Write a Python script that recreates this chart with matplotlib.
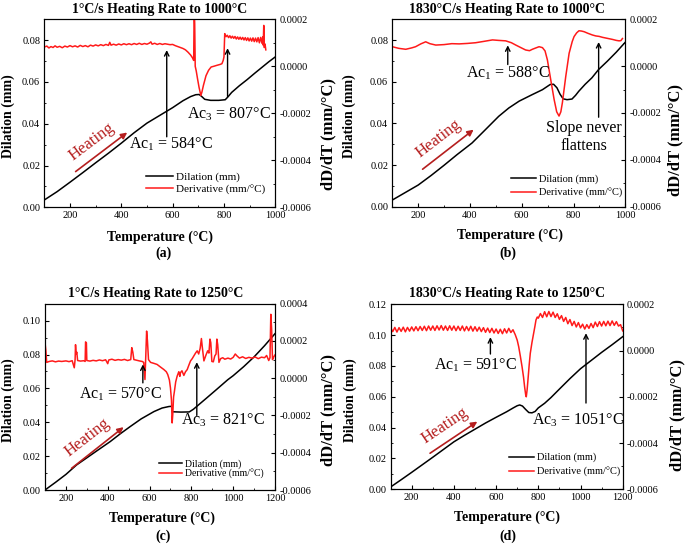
import matplotlib
matplotlib.use("Agg")
import matplotlib.pyplot as plt
import numpy as np
from matplotlib.lines import Line2D
from matplotlib.ticker import MultipleLocator, FormatStrFormatter

plt.rcParams['font.family'] = ['Liberation Serif', 'DejaVu Serif']
plt.rcParams['mathtext.fontset'] = 'custom'
plt.rcParams['mathtext.rm'] = 'Liberation Serif'
plt.rcParams['axes.unicode_minus'] = False

# ---------------- data (temperature in °C, dilation in mm, derivative in 1e-5 mm/°C) ----------------
# (a) 1 °C/s to 1000 °C
t_dil_a = [100, 150, 200, 250, 300, 350, 400, 450, 500, 550, 600, 640, 670, 690, 703, 712, 725, 748,
           780, 805, 815, 830, 860, 890, 920, 950, 975, 1000]
dil_a = [0.0035, 0.0075, 0.0120, 0.0166, 0.0213, 0.0259, 0.0307, 0.0357, 0.0403, 0.0440, 0.0477, 0.0510,
         0.0530, 0.0539, 0.0540, 0.0532, 0.0517, 0.0512, 0.0512, 0.0515, 0.0528, 0.0550, 0.0582, 0.0611,
         0.0642, 0.0672, 0.0697, 0.0720]
t_der_a = [100, 110, 118, 126, 134, 142, 150, 160, 170, 180, 190, 200, 210, 220, 230, 240, 250, 260, 270,
           280, 290, 300, 310, 320, 330, 340, 350, 355, 360, 370, 380, 390, 400, 410, 420, 430, 440, 450,
           460, 470, 480, 490, 500, 510, 515, 520, 530, 540, 550, 560, 570, 580, 590, 600, 610, 620, 630,
           640, 650, 660, 670, 678, 682, 684, 686, 688, 692, 697, 703, 710, 714, 720, 730, 740, 750, 760,
           772, 785, 792, 797, 800, 803, 808, 813, 818, 823, 828, 833, 838, 843, 848, 853, 858, 863, 868,
           873, 878, 883, 888, 893, 898, 903, 908, 913, 918, 923, 928, 933, 938, 943, 948, 951, 953, 955,
           957, 960, 963]
der_a = [8.2, 8.6, 7.8, 8.4, 8.0, 8.7, 8.1, 8.5, 7.9, 8.6, 8.2, 8.8, 8.3, 8.7, 8.2, 8.9, 8.4, 8.8, 8.3,
         9.0, 8.6, 9.1, 8.7, 9.2, 8.8, 9.3, 8.9, 10.2, 9.0, 9.4, 9.0, 9.5, 9.1, 9.6, 9.2, 9.6, 9.2, 9.7,
         9.3, 9.8, 9.3, 9.7, 9.4, 9.9, 10.4, 9.4, 9.8, 9.3, 9.7, 9.3, 9.6, 9.4, 9.2, 9.3, 8.8, 8.4, 8.0,
         7.6, 7.0, 6.0, 4.8, 3.5, 2.5, 25.0, 18.0, 0.0, -2.0, -5.3, -9.0, -12.4, -11.0, -8.1, -4.0, -1.7,
         -0.3, 0.0, 0.4, 0.8, 1.1, 2.5, 4.0, 13.9, 12.6, 13.2, 12.2, 13.0, 12.0, 12.8, 11.9, 12.7, 11.6,
         12.5, 11.5, 12.4, 11.4, 12.3, 11.2, 12.2, 11.0, 12.1, 10.8, 12.0, 10.7, 12.1, 10.5, 12.0, 10.4,
         12.2, 10.0, 12.3, 9.8, 12.5, 9.0, 17.4, 8.0, 9.5, 7.0]

# (b) 1830 °C/s to 1000 °C
t_dil_b = [100, 150, 200, 250, 300, 350, 408, 450, 511, 550, 590, 640, 680, 710, 723, 736, 748, 760, 775,
           794, 808, 820, 845, 871, 897, 930, 965, 1000]
dil_b = [0.0032, 0.0068, 0.0104, 0.0150, 0.0199, 0.0250, 0.0306, 0.0358, 0.0434, 0.0474, 0.0507, 0.0538,
         0.0562, 0.0587, 0.0588, 0.0571, 0.0540, 0.0518, 0.0514, 0.0517, 0.0535, 0.0554, 0.0588, 0.0619,
         0.0659, 0.0698, 0.0742, 0.0790]
t_der_b = [100, 125, 152, 175, 190, 210, 229, 245, 268, 300, 330, 358, 390, 422, 455, 487, 510, 538, 560,
           577, 595, 615, 630, 641, 655, 667, 680, 690, 699, 712, 725, 735, 744, 751, 757, 770, 783, 795,
           802, 812, 821, 830, 841, 856, 873, 886, 899, 912, 925, 938, 951, 965, 976, 983, 989]
der_b = [8.3, 7.6, 7.2, 7.8, 8.3, 9.5, 10.4, 9.6, 9.0, 9.2, 9.6, 9.5, 9.7, 10.0, 10.6, 11.2, 11.0, 10.8,
         10.0, 9.0, 8.0, 6.9, 6.6, 7.2, 7.8, 8.3, 7.9, 6.5, 2.7, -5.8, -14.2, -19.5, -21.3, -19.5, -15.6,
         -4.4, 5.5, 10.5, 12.6, 14.2, 15.1, 15.0, 14.7, 14.0, 13.3, 12.9, 12.7, 12.3, 12.0, 11.7, 11.4,
         11.0, 10.8, 10.9, 11.8]

# (c) 1 °C/s to 1250 °C
t_dil_c = [100, 150, 200, 251, 300, 350, 412, 460, 508, 560, 621, 660, 693, 706, 709, 750, 790, 810, 829,
           870, 920, 974, 1000, 1050, 1100, 1150, 1200]
dil_c = [0.0000, 0.0045, 0.0092, 0.0148, 0.0190, 0.0233, 0.0286, 0.0332, 0.0375, 0.0420, 0.0463, 0.0484,
         0.0493, 0.0494, 0.0462, 0.0460, 0.0461, 0.0477, 0.0497, 0.0540, 0.0593, 0.0651, 0.0675, 0.0728,
         0.0786, 0.0852, 0.0923]
t_der_c = [100, 104, 108, 120, 135, 150, 165, 180, 200, 215, 230, 240, 244, 246, 249, 252, 256, 270, 285,
           292, 294, 298, 300, 315, 330, 345, 360, 375, 390, 400, 405, 420, 435, 450, 465, 480, 495, 510,
           515, 520, 525, 540, 555, 565, 572, 578, 582, 586, 590, 595, 605, 620, 636, 650, 668, 680, 687,
           695, 700, 705, 708, 711, 715, 719, 725, 732, 740, 745, 748, 755, 764, 772, 780, 788, 796, 804,
           812, 820, 828, 835, 842, 848, 852, 860, 870, 878, 884, 889, 893, 898, 905, 912, 918, 922, 926,
           932, 940, 950, 960, 975, 988, 1000, 1010, 1018, 1030, 1045, 1060, 1075, 1090, 1105, 1120, 1135,
           1150, 1160, 1170, 1176, 1180, 1184, 1188, 1194, 1200]
der_c = [19.0, 15.0, 8.5, 9.0, 9.3, 8.8, 9.2, 9.0, 9.3, 8.9, 9.4, 5.6, 10.0, 18.0, 13.0, 14.0, 9.5, 9.2,
         9.4, 9.0, 19.5, 19.0, 9.5, 9.2, 9.6, 9.3, 9.8, 9.4, 9.9, 7.8, 9.8, 10.2, 9.6, 10.0, 9.7, 10.1,
         9.5, 10.0, 16.4, 14.0, 10.0, 9.6, 9.2, 9.0, 8.5, -0.7, 12.0, 25.3, 20.0, 10.0, 8.5, 8.0, 7.4,
         6.2, 4.7, 3.5, 2.0, -1.0, -5.2, -12.0, -24.0, -19.5, -10.0, -7.0, -2.0, 1.1, 3.5, 1.0, 3.0, 4.0,
         1.5, 3.5, 4.6, 7.0, 9.3, 10.5, 12.0, 13.5, 14.7, 13.0, 16.0, 21.3, 17.0, 9.3, 12.5, 14.7, 13.5,
         21.0, 19.0, 9.0, 8.8, 12.0, 13.0, 21.0, 18.0, 8.5, 10.5, 11.0, 10.2, 10.8, 10.3, 11.2, 13.0, 12.0,
         10.8, 11.5, 10.6, 11.2, 10.8, 11.4, 10.5, 11.3, 11.0, 12.2, 9.5, 11.0, 34.3, 26.0, 10.0, 11.5,
         12.5]

# (d) 1830 °C/s to 1250 °C
t_dil_d = [100, 150, 200, 250, 300, 350, 400, 450, 500, 550, 600, 650, 680, 700, 712, 725, 740, 755, 770,
           785, 800, 830, 860, 900, 950, 1000, 1050, 1100, 1150, 1200]
dil_d = [0.0015, 0.0062, 0.0110, 0.0159, 0.0208, 0.0258, 0.0308, 0.0350, 0.0390, 0.0430, 0.0467, 0.0503,
         0.0527, 0.0542, 0.0547, 0.0540, 0.0518, 0.0498, 0.0496, 0.0505, 0.0528, 0.0558, 0.0595, 0.0650,
         0.0718, 0.0782, 0.0835, 0.0888, 0.0938, 0.0990]
t_der_d = [100, 110, 120, 130, 140, 150, 160, 170, 180, 190, 200, 210, 220, 230, 240, 250, 260, 270, 280,
           290, 300, 310, 320, 330, 340, 350, 360, 370, 380, 390, 400, 410, 420, 430, 440, 450, 460, 470,
           480, 490, 500, 510, 520, 530, 540, 550, 560, 570, 580, 590, 600, 610, 620, 630, 640, 650, 660,
           670, 680, 691, 700, 707, 715, 723, 730, 735, 740, 743, 747, 751, 757, 762, 770, 778, 784, 789,
           795, 800, 810, 820, 830, 840, 850, 860, 870, 880, 890, 900, 910, 920, 930, 940, 950, 960, 970,
           980, 990, 1000, 1010, 1020, 1030, 1040, 1050, 1060, 1070, 1080, 1090, 1100, 1110, 1120, 1130,
           1140, 1150, 1160, 1170, 1180, 1190, 1200]
der_d = [9.8, 8.2, 10.0, 8.0, 9.9, 8.3, 10.1, 8.1, 10.0, 8.4, 10.2, 8.5, 10.3, 8.6, 10.4, 8.7, 10.5, 8.6,
         10.6, 8.8, 10.6, 8.7, 10.7, 8.9, 10.8, 8.8, 10.6, 8.7, 10.7, 8.8, 10.6, 8.6, 10.5, 8.7, 10.6, 8.5,
         10.4, 8.6, 10.5, 8.4, 10.3, 8.4, 10.1, 8.2, 9.9, 7.9, 9.7, 7.8, 9.6, 7.6, 9.3, 7.4, 9.2, 7.3, 9.4,
         7.6, 9.6, 7.8, 9.0, 6.8, 4.5, 1.7, -2.5, -7.0, -11.5, -15.6, -19.0, -20.0, -17.0, -12.7, -6.0,
         -1.2, 3.5, 7.5, 10.5, 13.2, 14.5, 14.0, 16.0, 14.3, 16.8, 14.6, 16.9, 14.7, 16.6, 14.3, 15.9, 13.5,
         15.1, 12.6, 14.3, 11.6, 13.4, 10.8, 12.6, 10.2, 12.1, 9.8, 11.4, 9.3, 11.2, 9.6, 11.7, 9.9, 12.3,
         10.4, 12.5, 10.6, 12.6, 10.7, 12.7, 10.8, 12.8, 10.9, 12.5, 10.6, 11.2, 8.5]

titles = ['1°C/s Heating Rate to 1000°C', '1830°C/s Heating Rate to 1000°C',
          '1°C/s Heating Rate to 1250°C', '1830°C/s Heating Rate to 1250°C']
letters = ['(a)', '(b)', '(c)', '(d)']

W, H = 685, 545
fig = plt.figure(figsize=(W / 100, H / 100), dpi=100)
dark_red = '#B51E1E'


def px(x, y):
    return x / W, 1 - y / H


def panel(box, t_dil, dil, t_der, der, xmax, ymax_l, ymax_r, leg):
    x0, y0, x1, y1 = box
    ax = fig.add_axes([x0 / W, 1 - y1 / H, (x1 - x0) / W, (y1 - y0) / H])
    ax2 = ax.twinx()
    ax.plot(t_dil, dil, color='black', lw=1.1)
    ax2.plot(t_der, np.array(der) * 1e-5, color='#FF1A1A', lw=1.1)
    ax.set_xlim(100, xmax)
    ax.set_ylim(0, ymax_l)
    ax2.set_ylim(-0.0006, ymax_r)
    ax.xaxis.set_major_locator(MultipleLocator(200))
    ax.xaxis.set_minor_locator(MultipleLocator(100))
    ax.yaxis.set_major_locator(MultipleLocator(0.02))
    ax.yaxis.set_minor_locator(MultipleLocator(0.01))
    ax.yaxis.set_major_formatter(FormatStrFormatter('%.2f'))
    ax2.yaxis.set_major_locator(MultipleLocator(0.0002))
    ax2.yaxis.set_minor_locator(MultipleLocator(0.0001))
    ax2.yaxis.set_major_formatter(FormatStrFormatter('%.4f'))
    for a in (ax, ax2):
        a.tick_params(which='both', direction='in', labelsize=7.5, pad=3)
        a.tick_params(which='major', length=3)
        a.tick_params(which='minor', length=1.5)
    handles = [Line2D([], [], color='black', lw=1.1), Line2D([], [], color='#FF1A1A', lw=1.1)]
    ax2.legend(handles, ['Dilation (mm)', 'Derivative (mm/°C)'], loc='lower right',
               bbox_to_anchor=(leg[0], leg[1]), frameon=False, fontsize=leg[2],
               handlelength=2.4, handletextpad=0.3, labelspacing=leg[3], borderpad=0,
               borderaxespad=0)
    return ax, ax2


def ac(ax2, x, y0, y1):
    ax2.annotate('', xy=(x, y1), xytext=(x, y0),
                 arrowprops=dict(arrowstyle='->', color='black', lw=1.0, shrinkA=0, shrinkB=0,
                                 mutation_scale=8))


def heating(ax, p0, p1, pt, rot):
    ax.annotate('', xy=p1, xytext=p0,
                arrowprops=dict(arrowstyle='-|>', color=dark_red, lw=1.2, shrinkA=0, shrinkB=0,
                                mutation_scale=9))
    ax.text(pt[0], pt[1], 'Heating', color=dark_red, fontsize=12, rotation=rot,
            ha='center', va='center', rotation_mode='anchor')


ann = dict(fontsize=11.5, ha='center', va='center')

# (a)
ax, ax2 = panel((44.3, 19.3, 275.3, 207.3), t_dil_a, dil_a, t_der_a, der_a, 1000, 0.09, 0.0002,
                (0.958, 0.068, 8, 0.25))
ac(ax2, 577, -0.000300, 0.000069)
ac(ax2, 814, -0.000129, 0.000077)
ax2.text(592, -0.00033, r'Ac$_\mathregular{1}$ = 584°C', **ann)
ax2.text(820, -0.000205, r'Ac$_\mathregular{3}$ = 807°C', **ann)
heating(ax, (222, 0.0171), (423, 0.0358), (283, 0.0315), 37)

# (b)
ax, ax2 = panel((392.3, 19.3, 625.3, 206.7), t_dil_b, dil_b, t_der_b, der_b, 1000, 0.09, 0.0002,
                (0.986, 0.049, 7.5, 0.35))
ac(ax2, 546, 0.000007, 0.000089)
ac(ax2, 897, -0.000218, 0.000103)
ax2.text(546, -0.000028, r'Ac$_\mathregular{1}$ = 588°C', **ann)
ax2.text(839, -0.000303, 'Slope never\nflattens', linespacing=1.15, **ann)
heating(ax, (217, 0.0180), (414, 0.0370), (279, 0.0325), 37.5)

# (c)
ax, ax2 = panel((45, 303.7, 275, 490), t_dil_c, dil_c, t_der_c, der_c, 1200, 0.11, 0.0004,
                (0.952, 0.059, 7, 0.05))
ac(ax2, 568, -0.000025, 0.000074)
ac(ax2, 826, -0.000200, 0.000086)
ax2.text(463, -0.000088, r'Ac$_\mathregular{1}$ = 570°C', **ann)
ax2.text(953, -0.000223, r'Ac$_\mathregular{3}$ = 821°C', **ann)
heating(ax, (227, 0.0128), (476, 0.0371), (304, 0.0312), 38)

# (d)
ax, ax2 = panel((390.6, 304.3, 622.7, 489.3), t_dil_d, dil_d, t_der_d, der_d, 1200, 0.12, 0.0002,
                (0.989, 0.066, 7.5, 0.45))
ac(ax2, 573, -0.000015, 0.000058)
ac(ax2, 1026, -0.000227, 0.000075)
ax2.text(501, -0.000062, r'Ac$_\mathregular{1}$ = 591°C', **ann)
ax2.text(987, -0.000300, r'Ac$_\mathregular{3}$ = 1051°C', **ann)
heating(ax, (287, 0.0234), (511, 0.0439), (356, 0.0410), 34)

# figure-level labels (pixel positions)
title_pos = [(160, 9.5), (507, 9.5), (156, 294), (507, 294)]
xlab_pos = [(160, 237), (510, 235), (162, 518), (507, 517)]
let_pos = [(163, 253), (508, 253), (163, 536), (508, 536)]
ylab_l = [(8, 116), (349, 116), (8, 400), (350, 400)]
ylab_r = [(328, 134), (675, 140), (328, 410), (677, 415)]
for i in range(4):
    fig.text(*px(*title_pos[i]), titles[i], fontsize=10, fontweight='bold', ha='center', va='center')
    fig.text(*px(*xlab_pos[i]), 'Temperature (°C)', fontsize=10, fontweight='bold',
             ha='center', va='center')
    fig.text(*px(*let_pos[i]), letters[i], fontsize=10, fontweight='bold', ha='center', va='center')
    fig.text(*px(*ylab_l[i]), 'Dilation (mm)', fontsize=10, fontweight='bold', rotation=90,
             ha='center', va='center')
    fig.text(*px(*ylab_r[i]), 'dD/dT (mm/°C)', fontsize=12, fontweight='bold', rotation=90,
             ha='center', va='center')

fig.savefig('out.png', dpi=100)
